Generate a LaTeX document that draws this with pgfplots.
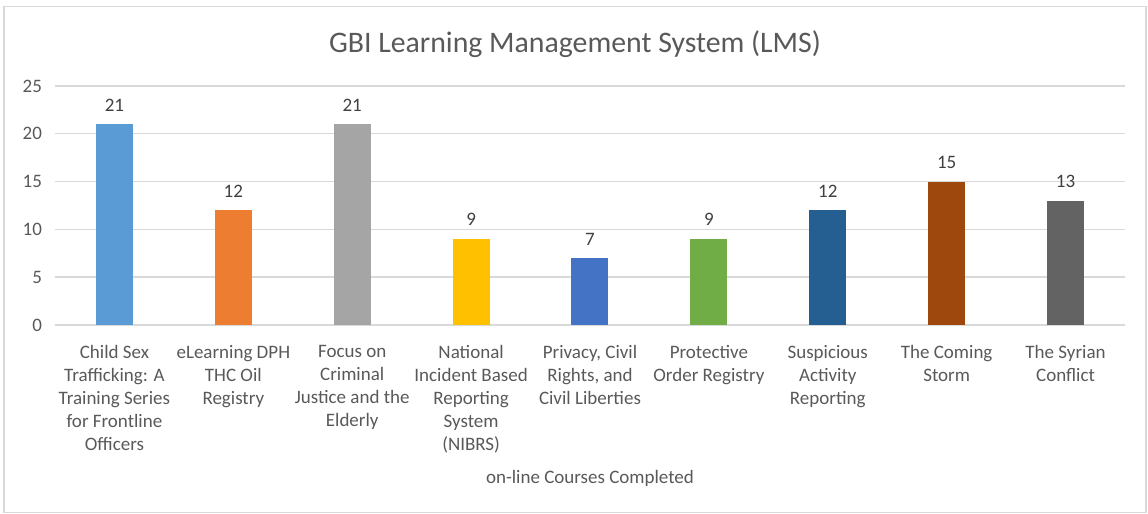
\documentclass[border=0pt]{standalone}
\usepackage{pgfplots}
\pgfplotsset{compat=1.18}
\usepackage{fontspec}
\setmainfont{Carlito}
\definecolor{c1}{HTML}{5B9BD5}
\definecolor{c2}{HTML}{ED7D31}
\definecolor{c3}{HTML}{A5A5A5}
\definecolor{c4}{HTML}{FFC000}
\definecolor{c5}{HTML}{4472C4}
\definecolor{c6}{HTML}{70AD47}
\definecolor{c7}{HTML}{255E91}
\definecolor{c8}{HTML}{9E480E}
\definecolor{c9}{HTML}{636363}
\definecolor{gridc}{HTML}{D9D9D9}
\definecolor{txt}{HTML}{595959}
\definecolor{lbl}{HTML}{404040}
\begin{document}
\begin{tikzpicture}
\useasboundingbox (0,0) rectangle (574pt,257pt);
\draw[gridc, line width=0.7pt] (2pt,0.7pt) rectangle (573pt,253.8pt);
\node[txt, font=\fontsize{14.9}{18}\selectfont] at (287.5pt,235pt) {GBI Learning Management System (LMS)};
\begin{axis}[
  at={(27.5pt,94.5pt)}, anchor=south west,
  scale only axis, width=535pt, height=119.5pt,
  xmin=-0.5, xmax=8.5, ymin=0, ymax=25,
  ytick={0,5,10,15,20,25},
  xtick={0,1,2,3,4,5,6,7,8},
  xticklabels={{Child Sex\\Trafficking: A\\Training Series\\for Frontline\\Officers},
    {eLearning DPH\\THC Oil\\Registry},
    {Focus on\\Criminal\\Justice and the\\Elderly},
    {National\\Incident Based\\Reporting\\System\\(NIBRS)},
    {Privacy, Civil\\Rights, and\\Civil Liberties},
    {Protective\\Order Registry},
    {Suspicious\\Activity\\Reporting},
    {The Coming\\Storm},
    {The Syrian\\Conflict}},
  xticklabel style={align=center, anchor=north, font=\fontsize{9.5}{11.5}\selectfont, text=txt, yshift=-6.5pt},
  yticklabel style={font=\fontsize{9.5}{11.5}\selectfont, text=txt, xshift=-3pt},
  /pgf/number format/assume math mode=true,
  axis line style={draw=none},
  major tick length=0pt,
  ymajorgrids, grid style={gridc, line width=0.7pt},
  xlabel={on-line Courses Completed},
  xlabel style={at={(axis description cs:0.5,0)}, anchor=center, yshift=-76.5pt, font=\fontsize{9.5}{11.5}\selectfont, text=txt},
  ybar, bar width=18.5pt, bar shift=0pt,
  nodes near coords,
  nodes near coords style={font=\fontsize{9.5}{11.5}\selectfont, text=lbl, anchor=south, yshift=3pt},
  clip=false,
]
\addplot[fill=c1, draw=none] coordinates {(0,21)};
\addplot[fill=c2, draw=none] coordinates {(1,12)};
\addplot[fill=c3, draw=none] coordinates {(2,21)};
\addplot[fill=c4, draw=none] coordinates {(3,9)};
\addplot[fill=c5, draw=none] coordinates {(4,7)};
\addplot[fill=c6, draw=none] coordinates {(5,9)};
\addplot[fill=c7, draw=none] coordinates {(6,12)};
\addplot[fill=c8, draw=none] coordinates {(7,15)};
\addplot[fill=c9, draw=none] coordinates {(8,13)};
\end{axis}
\end{tikzpicture}
\end{document}
